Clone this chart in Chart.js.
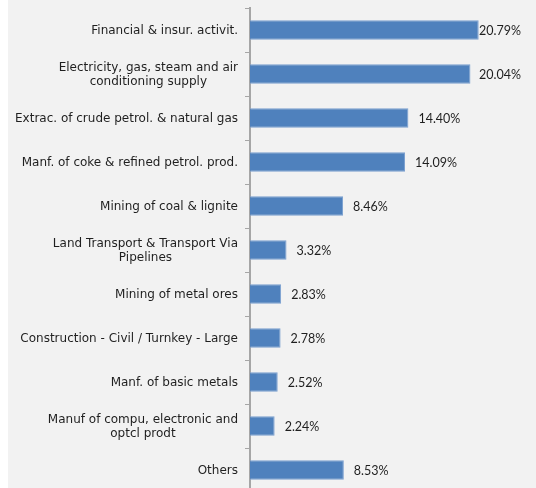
<!DOCTYPE html>
<html>
<head>
    <title>Sector share</title>
    <script src="https://cdn.jsdelivr.net/npm/chart.js"></script>
    <style>
        html, body { margin: 0; padding: 0; background: #ffffff; overflow: hidden; }
        #wrap { position: absolute; left: 8px; top: 0; width: 528px; height: 500px; background: #f2f2f2; }
    </style>
</head>
<body>
    <div id="wrap"><canvas id="chart"></canvas></div>

    <script>
// Sector names (multi-line where the label wraps) and their share in %
const sectors = [
    ['Financial & insur. activit.'],
    ['Electricity, gas, steam and air', 'conditioning supply'],
    ['Extrac. of crude petrol. & natural gas'],
    ['Manf. of coke & refined petrol. prod.'],
    ['Mining of coal & lignite'],
    ['Land Transport & Transport Via', 'Pipelines'],
    ['Mining of metal ores'],
    ['Construction - Civil / Turnkey - Large'],
    ['Manf. of basic metals'],
    ['Manuf of compu, electronic and', 'optcl prodt'],
    ['Others']
];
const shares = [20.79, 20.04, 14.40, 14.09, 8.46, 3.32, 2.83, 2.78, 2.52, 2.24, 8.53];

const nameFont = '12px "DejaVu Sans"';
const valueFont = '12.5px Lato';
const textColor = '#1f1f1f';

// Category names are drawn here so wrapped lines can be centred under each other
const sectorLabels = {
    id: 'sectorLabels',
    afterDraw(chart) {
        const ctx = chart.ctx;
        const y = chart.scales.y;
        const lineH = 14;
        ctx.save();
        ctx.font = nameFont;
        ctx.fillStyle = textColor;
        ctx.textBaseline = 'middle';
        ctx.textAlign = 'center';
        const right = y.right - 12;
        sectors.forEach((lines, i) => {
            const cy = y.getPixelForTick(i) + 1;
            const widest = Math.max(...lines.map(l => ctx.measureText(l).width));
            const cx = right - widest / 2;
            lines.forEach((l, j) => {
                ctx.fillText(l, cx, cy + (j - (lines.length - 1) / 2) * lineH);
            });
        });
        ctx.restore();
    }
};

// Percentage labels just past the end of each bar
const valueLabels = {
    id: 'valueLabels',
    afterDatasetsDraw(chart) {
        const ctx = chart.ctx;
        const meta = chart.getDatasetMeta(0);
        ctx.save();
        ctx.font = valueFont;
        ctx.fillStyle = textColor;
        ctx.textBaseline = 'middle';
        ctx.textAlign = 'left';
        meta.data.forEach((bar, i) => {
            const x = Math.min(bar.x + 10, chart.chartArea.right - 57);
            ctx.fillText(shares[i].toFixed(2) + '%', x, bar.y + 1);
        });
        ctx.restore();
    }
};

new Chart(document.getElementById('chart').getContext('2d'), {
    type: 'bar',
    data: {
        labels: sectors,
        datasets: [{
            data: shares,
            backgroundColor: '#4f81bd',
            borderColor: '#7a9fd0',
            borderWidth: 1,
            categoryPercentage: 1,
            barPercentage: 0.44
        }]
    },
    options: {
        indexAxis: 'y',
        responsive: true,
        maintainAspectRatio: false,
        animation: false,
        layout: { padding: { top: 8, bottom: 8, left: 0, right: 0 } },
        plugins: {
            legend: { display: false },
            tooltip: { enabled: false }
        },
        scales: {
            x: {
                display: false,
                min: 0,
                max: 26
            },
            y: {
                afterFit(scale) { scale.width = 242; },
                ticks: { display: false },
                grid: {
                    drawOnChartArea: false,
                    drawTicks: true,
                    tickLength: 5,
                    color: '#a6a6a6',
                    offset: true
                },
                border: { display: true, color: '#a6a6a6', width: 2 }
            }
        }
    },
    plugins: [sectorLabels, valueLabels]
});
   </script>
</body>
</html>
